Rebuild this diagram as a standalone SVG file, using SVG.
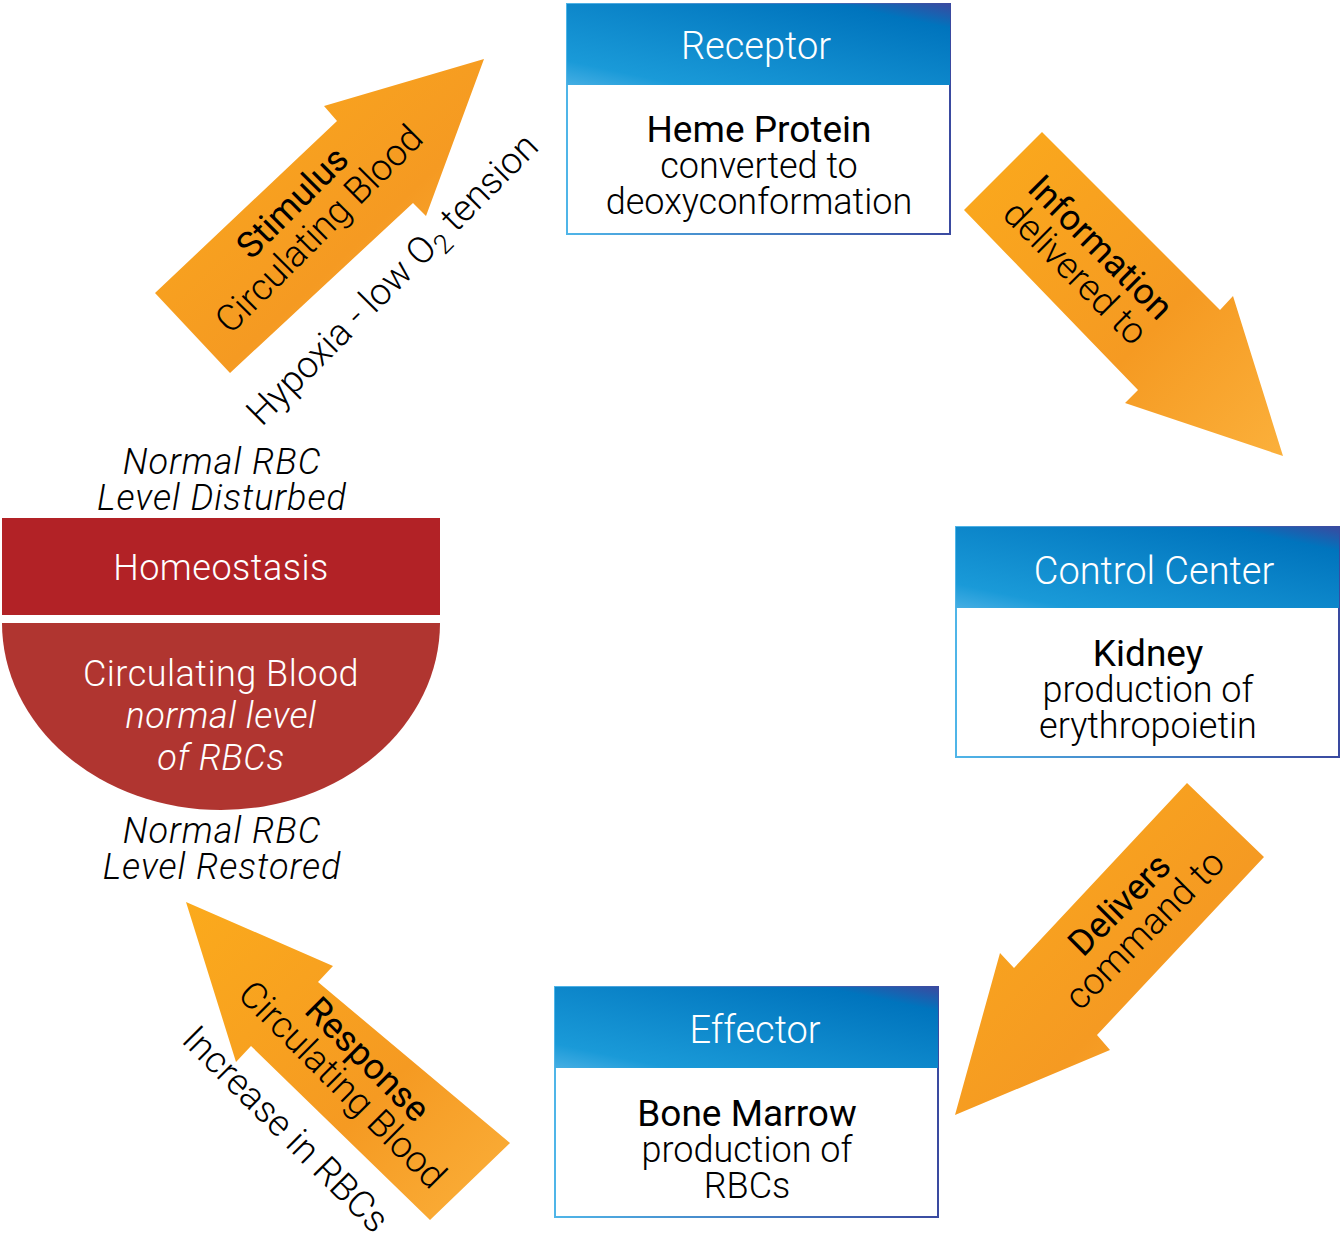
<svg xmlns="http://www.w3.org/2000/svg" width="1342" height="1238" viewBox="0 0 1342 1238">
<defs>
<linearGradient id="hdr" x1="0" y1="1" x2="1" y2="0">
<stop offset="0" stop-color="#45aee3"/><stop offset="0.15" stop-color="#1a9ad8"/><stop offset="0.85" stop-color="#0074bd"/><stop offset="1" stop-color="#3a4aa0"/>
</linearGradient>
<linearGradient id="org" x1="0" y1="0" x2="1" y2="1">
<stop offset="0" stop-color="#fbaa1c"/><stop offset="0.6" stop-color="#f59a22"/><stop offset="1" stop-color="#fbb03b"/>
</linearGradient>
<linearGradient id="bord" x1="0" y1="0" x2="1" y2="0">
<stop offset="0" stop-color="#4fb5e8"/><stop offset="1" stop-color="#3a4aa0"/>
</linearGradient>
</defs>
<style>
text{font-family:Roboto,"Liberation Sans",sans-serif;text-anchor:middle}
.hd{fill:#fff;font-weight:300;font-size:38px}
.t1{fill:#000;font-size:37px;font-weight:400}
.t2{fill:#000;font-size:36px;font-weight:300}
.arr{fill:url(#org)}
.at{fill:#000;font-size:36px;font-weight:400}
.atl{fill:#000;font-size:37px;font-weight:300}
.it{fill:#000;font-size:36px;font-style:italic;font-weight:300;letter-spacing:1px}
.wt{fill:#fff;font-size:36px;font-weight:300;letter-spacing:0.5px}
.box{fill:#fff;stroke:url(#bord);stroke-width:2}
</style>
<g id="connectors">
<polygon class="arr" points="155,293 337,121 324,106 484,59 426,216 413,203 230,373"/>
<polygon class="arr" points="964,210 1042,132 1220,310 1233,296 1283,456 1125,403 1138,390"/>
<polygon class="arr" points="1187,783 1264,857 1097,1035 1110,1050 955,1115 1000,953 1014,968"/>
<polygon class="arr" points="510,1143 430,1220 251,1046 236,1062 186,902 333,966 318,982"/>
<g transform="translate(301,211) rotate(-45)"><text class="at" x="0" y="0">Stimulus</text><text class="atl" x="0" y="38">Circulating Blood</text></g>
<g transform="translate(401,288) rotate(-45)"><text class="atl" x="0" y="0" font-size="38">Hypoxia - low O<tspan font-size="27" dy="8">2</tspan><tspan dy="-8"> tension</tspan></text></g>
<g transform="translate(1092,256) rotate(45)"><text class="at" x="0" y="0">Information</text><text class="atl" x="0" y="36">delivered to</text></g>
<g transform="translate(1128,913) rotate(-45)"><text class="at" x="0" y="0">Delivers</text><text class="atl" x="0" y="36">command to</text></g>
<g transform="translate(359,1068) rotate(45)"><text class="at" x="0" y="0">Response</text><text class="atl" x="0" y="36">Circulating Blood</text></g>
<g transform="translate(277,1138) rotate(45)"><text class="atl" x="0" y="0">Increase in RBCs</text></g>
</g>
<g id="receptor">
<rect class="box" x="567" y="4" width="383" height="230"/>
<rect x="567" y="4" width="383" height="81" fill="url(#hdr)"/>
<text class="hd" x="756" y="59">Receptor</text>
<text class="t1" x="759" y="142">Heme Protein</text>
<text class="t2" x="759" y="178">converted to</text>
<text class="t2" x="759" y="214">deoxyconformation</text>
</g>
<g id="control">
<rect class="box" x="956" y="527" width="383" height="230"/>
<rect x="956" y="527" width="383" height="81" fill="url(#hdr)"/>
<text class="hd" x="1154" y="584">Control Center</text>
<text class="t1" x="1148" y="666">Kidney</text>
<text class="t2" x="1148" y="702">production of</text>
<text class="t2" x="1148" y="738">erythropoietin</text>
</g>
<g id="effector">
<rect class="box" x="555" y="987" width="383" height="230"/>
<rect x="555" y="987" width="383" height="81" fill="url(#hdr)"/>
<text class="hd" x="755" y="1043">Effector</text>
<text class="t1" x="747" y="1126">Bone Marrow</text>
<text class="t2" x="747" y="1162">production of</text>
<text class="t2" x="747" y="1198">RBCs</text>
</g>
<g id="homeostasis">
<text class="it" x="222" y="474">Normal RBC</text>
<text class="it" x="222" y="510">Level Disturbed</text>
<rect x="2" y="518" width="438" height="97" fill="#b22226"/>
<text class="wt" x="221" y="580">Homeostasis</text>
<path d="M2,623 H440 A219,187 0 0 1 2,623 Z" fill="#b03530"/>
<text class="wt" x="221" y="686">Circulating Blood</text>
<text class="wt" x="221" y="728" font-style="italic">normal level</text>
<text class="wt" x="221" y="770" font-style="italic">of RBCs</text>
<text class="it" x="222" y="843">Normal RBC</text>
<text class="it" x="222" y="879">Level Restored</text>
</g>
</svg>
